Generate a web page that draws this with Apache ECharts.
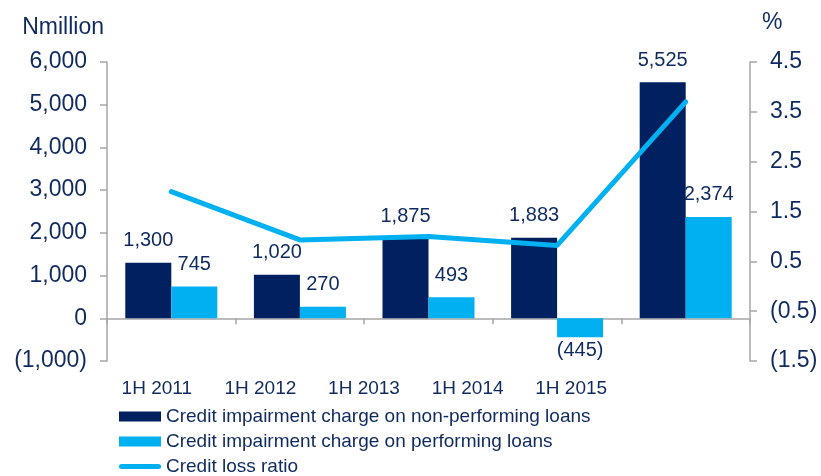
<!DOCTYPE html>
<html>
<head>
<meta charset="utf-8">
<script src="https://cdn.jsdelivr.net/npm/echarts@6/dist/echarts.min.js"></script>
<style>
html, body { margin: 0; padding: 0; background: #fff; }
#main { width: 821px; height: 476px; }
</style>
</head>
<body>
<div id="main"></div>
<script>
var categories = ['1H 2011', '1H 2012', '1H 2013', '1H 2014', '1H 2015']
var nplCharge = [1300, 1020, 1875, 1883, 5525]
var plCharge = [745, 270, 493, -445, 2374]
var lossRatio = [1.9, 0.93, 1.0, 0.82, 3.7]

var textColor = '#0e2a5f'
var axisColor = '#a6a6a6'
var font = 'Liberation Sans, Arial, sans-serif'

function fmtAmount(v) {
	var s = Math.abs(v).toString().replace(/\B(?=(\d{3})+(?!\d))/g, ',')
	return v < 0 ? '(' + s + ')' : s
}
function fmtPct(v) {
	var s = Math.abs(v).toFixed(1)
	return v < 0 ? '(' + s + ')' : s
}

var myChart = echarts.init(document.getElementById('main'))

var labelStyle = {
	show : true,
	position : 'top',
	distance : 12,
	color : textColor,
	fontSize : 20,
	fontFamily : font,
	formatter : function(p) { return fmtAmount(p.value) }
}

var option = {
	animation : false,
	textStyle : { fontFamily : font },
	grid : [
		{ left : 107, right : 71, top : 62, bottom : 115 },
		// second grid only carries the category labels, which sit off-centre in the original
		{ left : 105, right : 198, top : 62, bottom : 115 }
	],
	legend : {
		orient : 'vertical',
		left : 119,
		top : 407,
		padding : 0,
		itemGap : 6,
		itemWidth : 42,
		itemHeight : 10,
		textStyle : { color : textColor, fontSize : 19, fontFamily : font },
		data : [
			{ name : 'Credit impairment charge on non-performing loans', icon : 'rect' },
			{ name : 'Credit impairment charge on performing loans', icon : 'rect' },
			{ name : 'Credit loss ratio', icon : 'path://M2.5,0 L39.5,0 A2.5,2.5 0 0 1 39.5,5 L2.5,5 A2.5,2.5 0 0 1 2.5,0 Z' }
		]
	},
	xAxis : [ {
		type : 'category',
		gridIndex : 0,
		data : categories,
		axisLine : { onZero : true, onZeroAxisIndex : 0, lineStyle : { color : axisColor, width : 1.5 } },
		axisTick : { show : true, length : 6, lineStyle : { color : axisColor, width : 1.5 } },
		axisLabel : { show : false }
	}, {
		type : 'category',
		gridIndex : 1,
		data : categories,
		axisLine : { show : false },
		axisTick : { show : false },
		axisLabel : { margin : 18, color : textColor, fontSize : 19, fontFamily : font }
	} ],
	yAxis : [ {
		type : 'value',
		gridIndex : 0,
		min : -1000,
		max : 6000,
		interval : 1000,
		name : 'Nmillion',
		nameGap : 23,
		nameTextStyle : { color : textColor, fontSize : 23, align : 'right', padding : [0, 3, 0, 0] },
		splitLine : { show : false },
		axisLine : { show : true, lineStyle : { color : axisColor, width : 1.5 } },
		axisTick : { show : true, length : 7, lineStyle : { color : axisColor, width : 1.5 } },
		axisLabel : { margin : 20, color : textColor, fontSize : 23, formatter : fmtAmount }
	}, {
		type : 'value',
		gridIndex : 0,
		position : 'right',
		min : -1.5,
		max : 4.5,
		interval : 1,
		name : '%',
		nameGap : 28,
		nameTextStyle : { color : textColor, fontSize : 23, align : 'left', padding : [0, 0, 0, 12] },
		splitLine : { show : false },
		axisLine : { show : true, lineStyle : { color : axisColor, width : 1.5 } },
		axisTick : { show : true, length : 7, lineStyle : { color : axisColor, width : 1.5 } },
		axisLabel : { margin : 20, color : textColor, fontSize : 23, formatter : fmtPct }
	}, {
		type : 'value',
		gridIndex : 1,
		show : false
	} ],
	series : [ {
		name : 'Credit impairment charge on non-performing loans',
		type : 'bar',
		xAxisIndex : 0,
		yAxisIndex : 0,
		barWidth : 46,
		barGap : '0%',
		itemStyle : { color : '#00205f' },
		label : labelStyle,
		data : nplCharge
	}, {
		name : 'Credit impairment charge on performing loans',
		type : 'bar',
		xAxisIndex : 0,
		yAxisIndex : 0,
		barWidth : 46,
		barGap : '0%',
		itemStyle : { color : '#00b0f0' },
		label : labelStyle,
		data : plCharge.map(function(v) {
			if (v < 0) {
				return { value : v, label : { position : 'bottom', distance : 3 } }
			}
			return v
		})
	}, {
		name : 'Credit loss ratio',
		type : 'line',
		xAxisIndex : 0,
		yAxisIndex : 1,
		symbol : 'none',
		z : 5,
		itemStyle : { color : '#00b0f0' },
		lineStyle : { color : '#00b0f0', width : 5, cap : 'round', join : 'round' },
		data : lossRatio
	} ]
}
myChart.setOption(option)
</script>
</body>
</html>
